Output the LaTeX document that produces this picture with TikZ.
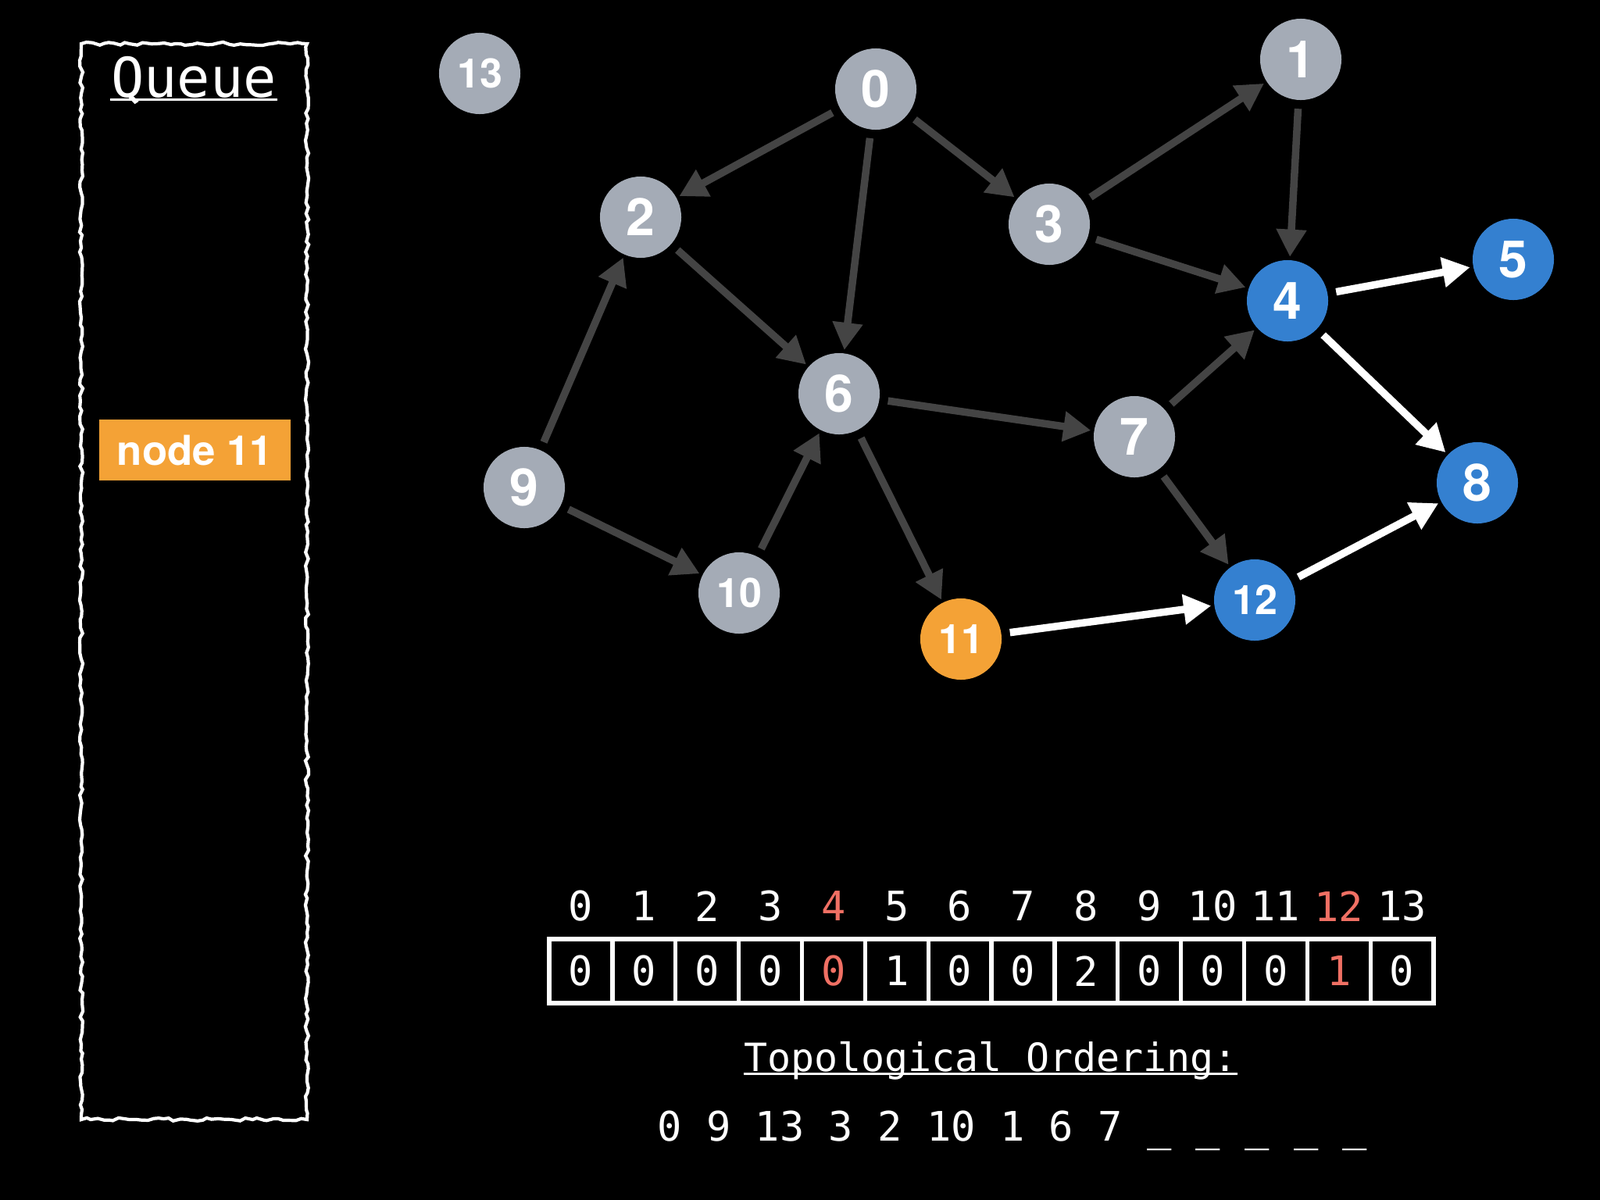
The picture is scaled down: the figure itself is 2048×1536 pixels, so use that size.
\documentclass[tikz,border=0pt]{standalone}
\usepackage{fontspec}
\setmainfont{TeX Gyre Heros}
\newfontfamily\codefont{DejaVu Sans Mono}
\usetikzlibrary{arrows.meta, decorations.pathmorphing}
\definecolor{vertexgray}{RGB}{164, 171, 182}
\definecolor{edgegray}{RGB}{68, 68, 68}
\definecolor{sinkblue}{RGB}{52, 128, 208}
\definecolor{queueorange}{RGB}{244, 162, 54}
\definecolor{countred}{RGB}{240, 112, 100}

\begin{document}
\begin{tikzpicture}[
    x=0.01cm, y=-0.01cm,
    vertex/.style={circle, minimum size=1.04cm, inner sep=0pt, fill=vertexgray, text=white, font=\bfseries\fontsize{18.8}{20}\selectfont},
    twodigit/.style={font=\bfseries\fontsize{14.8}{16}\selectfont},
    ready/.style={vertex, fill=sinkblue},
    current/.style={vertex, fill=queueorange},
    link/.style={-{Triangle[length=10pt, width=10.5pt]}, line width=2.7pt, draw=edgegray, shorten <=3pt, shorten >=1pt},
    hotlink/.style={link, draw=white},
    cell/.style={draw=white, line width=1.5pt, minimum width=0.8086cm, minimum height=0.82cm, inner sep=0pt, font=\codefont\fontsize{14.8}{16}\selectfont},
    index/.style={inner sep=0pt, font=\codefont\fontsize{14.8}{16}\selectfont},
    mono/.style={inner sep=0pt, text=white, anchor=base},
    chalk/.style={draw=white, line width=1.2pt, decorate, decoration={random steps, segment length=2pt, amplitude=0.6pt}}
]

% Background
\useasboundingbox (0,0) rectangle (2048,1536);
\fill[black] (0,0) rectangle (2048,1536);

% Queue
\draw[chalk] (104,56) rectangle (393,1433);
\node[mono, font=\codefont\fontsize{20}{22}\selectfont] (qtitle) at (248,124) {Queue};
\draw[white, line width=0.9pt] ([yshift=-1pt]qtitle.base west) -- ([yshift=-1pt]qtitle.base east);
\node[fill=queueorange, text=white, font=\bfseries\fontsize{15}{16}\selectfont, minimum width=2.45cm, minimum height=0.78cm] (q11) at (249.5,576) {node 11};

% Vertices
\node[vertex, twodigit] (n13) at (614,94) {13};
\node[vertex] (n0) at (1121,114) {0};
\node[vertex] (n1) at (1665,76) {1};
\node[vertex] (n2) at (820,278) {2};
\node[vertex] (n3) at (1343,287) {3};
\node[ready] (n4) at (1648,385) {4};
\node[ready] (n5) at (1937,332) {5};
\node[vertex] (n6) at (1074,504) {6};
\node[vertex] (n7) at (1452,559) {7};
\node[ready] (n8) at (1891,618) {8};
\node[vertex] (n9) at (671,624) {9};
\node[vertex, twodigit] (n10) at (946,759) {10};
\node[current, twodigit] (n11) at (1230,818) {11};
\node[ready, twodigit] (n12) at (1606,768) {12};

% Edges already processed
\draw[link] (n0) -- (n2);
\draw[link] (n0) -- (n6);
\draw[link] (n0) -- (n3);
\draw[link] (n3) -- (n1);
\draw[link] (n1) -- (n4);
\draw[link] (n3) -- (n4);
\draw[link] (n2) -- (n6);
\draw[link] (n9) -- (n2);
\draw[link] (n9) -- (n10);
\draw[link] (n10) -- (n6);
\draw[link] (n6) -- (n7);
\draw[link] (n6) -- (n11);
\draw[link] (n7) -- (n4);
\draw[link] (n7) -- (n12);

% Edges still open
\draw[hotlink] (n4) -- (n5);
\draw[hotlink] (n4) -- (n8);
\draw[hotlink] (n11) -- (n12);
\draw[hotlink] (n12) -- (n8);

% In-degree array
\foreach \i/\v/\c in {0/0/white, 1/0/white, 2/0/white, 3/0/white, 4/0/countred, 5/1/white, 6/0/white, 7/0/white, 8/2/white, 9/0/white, 10/0/white, 11/0/white, 12/1/countred, 13/0/white} {
    \node[index, text=\c] (i\i) at ({703+80.86*(\i+0.5)},1160) {\i};
    \node[cell, text=\c] (c\i) at ({703+80.86*(\i+0.5)},1243) {\v};
}

% Ordering
\node[mono, font=\codefont\fontsize{14.2}{16}\selectfont] (otitle) at (1268,1371) {Topological Ordering:};
\draw[white, line width=0.9pt] ([yshift=-1pt]otitle.base west) -- ([yshift=-1pt]otitle.base east);
\node[mono, font=\codefont\fontsize{14.8}{16}\selectfont] (order) at (1296,1460) {0 9 13 3 2 10 1 6 7 \_ \_ \_ \_ \_};

\end{tikzpicture}
\end{document}
